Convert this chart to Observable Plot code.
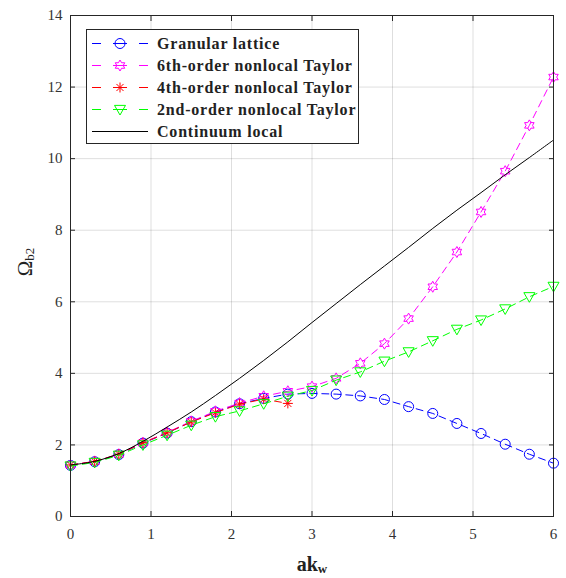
<!DOCTYPE html>
<html>
<head>
<meta charset="utf-8">
<script src="https://cdn.jsdelivr.net/npm/d3@7"></script>
<script src="https://cdn.jsdelivr.net/npm/@observablehq/plot@0.6"></script>
<style>
  body { margin: 0; background: #fff; }
  #chart { position: relative; width: 566px; height: 578px; font-family: "Liberation Serif", "Times New Roman", serif; }
  #legend { position: absolute; left: 86px; top: 29px; width: 271px; height: 113px; border: 1px solid #262626; background: #fff; }
  #legend svg { display: block; }
</style>
</head>
<body>
<div id="chart"></div>
<script>
// Dimensionless wavenumber samples
const ak = [0, 0.3, 0.6, 0.9, 1.2, 1.5, 1.8, 2.1, 2.4, 2.7, 3.0, 3.3, 3.6, 3.9, 4.2, 4.5, 4.8, 5.1, 5.4, 5.7, 6.0];
// Frequency branch Ω_b2 for each model
const lattice = [1.43, 1.53, 1.73, 2.05, 2.33, 2.65, 2.92, 3.15, 3.30, 3.42, 3.44, 3.42, 3.37, 3.27, 3.07, 2.88, 2.60, 2.32, 2.02, 1.74, 1.49];
const taylor6 = [1.44, 1.54, 1.74, 2.06, 2.35, 2.66, 2.94, 3.17, 3.36, 3.50, 3.63, 3.86, 4.28, 4.83, 5.53, 6.42, 7.39, 8.51, 9.65, 10.93, 12.28];
const ak4 = [0, 0.3, 0.6, 0.9, 1.2, 1.5, 1.8, 2.1, 2.4, 2.7];
const taylor4 = [1.44, 1.54, 1.74, 2.06, 2.34, 2.64, 2.90, 3.14, 3.28, 3.16];
const taylor2 = [1.41, 1.51, 1.71, 2.00, 2.27, 2.55, 2.79, 2.95, 3.15, 3.36, 3.52, 3.81, 4.04, 4.34, 4.60, 4.91, 5.23, 5.49, 5.80, 6.14, 6.43];
const continuum = [1.44, 1.54, 1.76, 2.10, 2.50, 2.92, 3.38, 3.86, 4.36, 4.88, 5.42, 5.95, 6.48, 7.00, 7.52, 8.05, 8.56, 9.05, 9.55, 10.03, 10.52];

// Axis ticks and labels
const xTicks = [0, 1, 2, 3, 4, 5, 6];
const yTicks = [0, 2, 4, 6, 8, 10, 12, 14];
const seriesNames = ["Granular lattice", "6th-order nonlocal Taylor", "4th-order nonlocal Taylor", "2nd-order nonlocal Taylor", "Continuum local"];

// Marker shapes (size is an area, as with d3.symbol)
const radius = size => Math.sqrt(size / Math.PI);
const triangleDown = {
  draw(ctx, size) {
    const r = radius(size) * 1.1;
    ctx.moveTo(-r, -0.75 * r);
    ctx.lineTo(r, -0.75 * r);
    ctx.lineTo(0, r);
    ctx.closePath();
  }
};
const hexagram = {
  draw(ctx, size) {
    const R = radius(size) * 1.1, r = R / Math.sqrt(3);
    for (let i = 0; i < 12; i++) {
      const a = -Math.PI / 2 + i * Math.PI / 6;
      const rr = i % 2 === 0 ? R : r;
      const px = rr * Math.cos(a), py = rr * Math.sin(a);
      if (i === 0) ctx.moveTo(px, py); else ctx.lineTo(px, py);
    }
    ctx.closePath();
  }
};
const asterisk8 = {
  draw(ctx, size) {
    const r = radius(size);
    for (let i = 0; i < 4; i++) {
      const a = i * Math.PI / 4;
      ctx.moveTo(-r * Math.cos(a), -r * Math.sin(a));
      ctx.lineTo(r * Math.cos(a), r * Math.sin(a));
    }
  }
};

const rows = (xs, ys) => xs.map((x, i) => ({x, y: ys[i]}));
const dLattice = rows(ak, lattice);
const d6 = rows(ak, taylor6);
const d4 = rows(ak4, taylor4);
const d2 = rows(ak, taylor2);
const dCont = rows(ak, continuum);

const dash = "7,5";
const axisColor = "#262626";
const intFormat = d => String(d);

const chart = Plot.plot({
  width: 566,
  height: 578,
  marginLeft: 70,
  marginRight: 13,
  marginTop: 15,
  marginBottom: 62,
  style: {fontFamily: "'Liberation Serif', 'Times New Roman', serif", fontSize: "15px", color: axisColor, background: "#fff"},
  x: {domain: [0, 6], label: null},
  y: {domain: [0, 14], label: null},
  marks: [
    Plot.gridX(xTicks, {stroke: "#000", strokeOpacity: 0.13}),
    Plot.gridY(yTicks, {stroke: "#000", strokeOpacity: 0.13}),
    Plot.axisX({ticks: xTicks, tickSize: -5, tickPadding: 17, tickFormat: intFormat, fill: "#333", stroke: axisColor}),
    Plot.axisX({anchor: "top", ticks: xTicks, tickSize: -5, tickFormat: () => "", stroke: axisColor}),
    Plot.axisY({ticks: yTicks, tickSize: -5, tickPadding: 13, tickFormat: intFormat, fill: "#333", stroke: axisColor}),
    Plot.axisY({anchor: "right", ticks: yTicks, tickSize: -5, tickFormat: () => "", stroke: axisColor}),

    Plot.line(dLattice, {x: "x", y: "y", stroke: "#0000ff", strokeWidth: 1, strokeDasharray: dash}),
    Plot.dot(dLattice, {x: "x", y: "y", r: 5, symbol: "circle", stroke: "#0000ff", fill: "none", strokeWidth: 1}),

    Plot.line(d6, {x: "x", y: "y", stroke: "#ff00ff", strokeWidth: 1, strokeDasharray: dash}),
    Plot.dot(d6, {x: "x", y: "y", r: 5, symbol: hexagram, stroke: "#ff00ff", fill: "none", strokeWidth: 1}),

    Plot.line(d4, {x: "x", y: "y", stroke: "#ff0000", strokeWidth: 1, strokeDasharray: dash}),
    Plot.dot(d4, {x: "x", y: "y", r: 5, symbol: asterisk8, stroke: "#ff0000", fill: "none", strokeWidth: 1}),

    Plot.line(d2, {x: "x", y: "y", stroke: "#00ff00", strokeWidth: 1, strokeDasharray: dash}),
    Plot.dot(d2, {x: "x", y: "y", r: 5, symbol: triangleDown, stroke: "#00ff00", fill: "none", strokeWidth: 1}),

    Plot.line(dCont, {x: "x", y: "y", stroke: "#000", strokeWidth: 1, curve: "catmull-rom"}),
    Plot.frame({stroke: axisColor, strokeWidth: 1})
  ]
});

const container = document.getElementById("chart");
container.appendChild(chart);

// Axis titles with subscripts
const svg = d3.select(chart);
const xt = svg.append("text")
  .attr("x", 312).attr("y", 571)
  .attr("text-anchor", "middle")
  .attr("fill", "#222")
  .style("font-family", "'Liberation Serif', serif");
xt.append("tspan").text("ak").attr("font-size", 20).attr("font-weight", "bold");
xt.append("tspan").text("w").attr("font-size", 13).attr("font-weight", "bold").attr("dy", 2);

const yt = svg.append("text")
  .attr("transform", "translate(32,262) rotate(-90)")
  .attr("text-anchor", "middle")
  .attr("fill", "#222")
  .style("font-family", "'Liberation Serif', serif");
yt.append("tspan").text("Ω").attr("font-size", 21);
yt.append("tspan").text("b2").attr("font-size", 13).attr("dy", 2);

// Legend
const legendDiv = d3.select(container).append("div").attr("id", "legend");
const lsvg = legendDiv.append("svg").attr("width", 271).attr("height", 113);
const legendStyles = [
  {color: "#0000ff", symbol: d3.symbolCircle, dashed: true},
  {color: "#ff00ff", symbol: hexagram, dashed: true},
  {color: "#ff0000", symbol: asterisk8, dashed: true},
  {color: "#00ff00", symbol: triangleDown, dashed: true},
  {color: "#000000", symbol: null, dashed: false}
];
seriesNames.forEach((name, i) => {
  const st = legendStyles[i];
  const g = lsvg.append("g").attr("transform", `translate(0,${13.5 + i * 22})`);
  if (st.dashed) {
    g.append("line").attr("x1", 5).attr("x2", 14).attr("stroke", st.color);
    g.append("line").attr("x1", 52).attr("x2", 61).attr("stroke", st.color);
    g.append("line").attr("x1", 26).attr("x2", 40).attr("stroke", st.color);
    g.append("path").attr("transform", "translate(33,0)")
      .attr("d", d3.symbol(st.symbol, 25 * Math.PI)())
      .attr("fill", "none").attr("stroke", st.color);
  } else {
    g.append("line").attr("x1", 5).attr("x2", 61).attr("stroke", st.color);
  }
  g.append("text").attr("x", 70).attr("dy", "0.35em")
    .attr("font-size", 16).attr("font-weight", "bold").attr("fill", "#222")
    .attr("letter-spacing", "0.8px")
    .style("font-family", "'Liberation Serif', serif")
    .text(name);
});
</script>
</body>
</html>
